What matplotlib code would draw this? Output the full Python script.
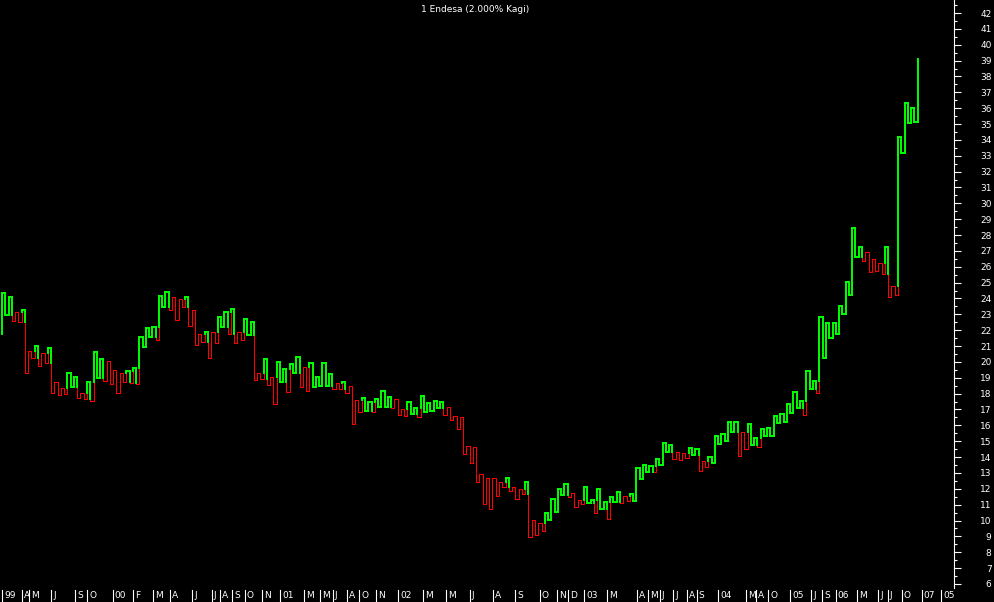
import matplotlib
matplotlib.use("Agg")
import matplotlib.pyplot as plt
import matplotlib.transforms as mtransforms
from matplotlib.ticker import MultipleLocator
import numpy as np

# Kagi turning points (alternating high / low)
kagi_1999_2000 = [21.74, 24.32, 22.96, 24.07, 22.58, 23.13, 22.54, 23.25, 19.32, 20.69,
                  20.23, 21.02, 19.74, 20.54, 19.91, 20.86, 18.02, 18.71, 17.91, 18.33,
                  17.98, 19.32, 18.40, 19.03, 17.70, 18.02, 17.66, 18.71, 17.56, 20.60,
                  18.97, 20.16, 18.82, 20.08, 18.61, 19.49, 18.02, 19.28, 18.76, 19.45,
                  18.65, 19.60, 18.61, 21.59, 20.96, 22.16, 21.55, 22.22, 21.38, 24.18,
                  23.48, 24.43, 23.27, 24.07, 22.64, 23.95, 23.48, 24.11, 22.27, 23.27,
                  21.07, 21.74, 21.24, 21.91, 20.23, 21.91, 21.17, 22.85, 22.22, 23.17,
                  21.76, 23.32, 21.17, 21.87, 21.38, 22.68, 21.70]
kagi_2001_2002 = [22.50, 18.86, 19.28, 18.90, 20.16, 18.54, 19.03, 17.35, 19.97, 18.75,
                  19.53, 18.08, 19.85, 19.28, 20.33, 18.40, 19.66, 18.17, 19.95, 18.40,
                  19.03, 18.48, 19.91, 18.48, 19.22, 18.27, 18.69, 18.27, 18.75, 18.02,
                  18.48, 16.09, 17.60, 16.86, 17.70, 16.93, 17.45, 16.86, 17.64, 17.14,
                  18.19, 17.14, 17.77, 17.07, 17.64, 16.65, 17.01, 16.59, 17.49, 16.72,
                  17.07, 16.55, 17.87, 16.82, 17.43, 16.91, 17.54, 17.07, 17.49, 16.65,
                  17.18, 16.34, 16.61, 15.77, 16.51]
kagi_2002_2003 = [14.19, 14.72, 13.65, 14.61, 12.41, 12.91, 11.04, 12.66, 10.73, 12.66,
                  11.55, 12.41, 12.09, 12.70, 11.88, 12.09, 11.36, 11.97, 11.65, 12.41,
                  8.98, 10.03, 9.09, 9.82, 9.36, 10.45, 10.03, 11.34, 10.52, 11.97,
                  11.61, 12.30, 11.50, 11.76, 10.83, 11.29, 11.04, 12.09, 11.08, 11.29,
                  10.49, 11.97, 10.73, 11.15, 10.07, 11.46, 11.19, 11.82, 11.08, 11.57,
                  11.25, 11.65, 11.25, 13.33]
kagi_2004_2007 = [12.62, 13.50, 13.08, 13.44, 13.04, 13.88, 13.50, 14.87, 14.34, 14.76,
                  13.86, 14.34, 13.82, 14.24, 13.96, 14.59, 14.13, 14.51, 13.12, 13.78,
                  13.35, 13.99, 13.65, 15.35, 14.83, 15.44, 15.01, 16.19, 15.56, 16.23,
                  14.07, 15.60, 14.49, 16.09, 14.76, 15.23, 14.62, 15.75, 15.33, 15.81,
                  15.33, 16.59, 16.13, 16.72, 16.19, 17.35, 16.76, 18.13, 17.10, 17.56,
                  16.65, 19.45, 18.30, 18.80, 18.02, 22.85, 20.23, 22.43, 21.49, 22.48,
                  21.74, 23.55, 23.00, 25.02, 24.22, 28.42, 26.64, 27.27, 26.38, 26.91,
                  25.65, 26.47, 25.73, 26.22, 25.52, 27.27, 24.07, 24.81, 24.22, 34.20,
                  33.20, 36.35, 35.04, 36.03, 35.11, 39.10]

month_labels = ['99', 'A', 'M', 'J', 'S', 'O',
                '00', 'F', 'M', 'A', 'J', 'J', 'A', 'S', 'O', 'N',
                '01', 'M', 'M', 'J', 'A', 'O', 'N',
                '02', 'M', 'M', 'J', 'A', 'S', 'O', 'N', 'D',
                '03', 'M', 'A', 'M', 'J', 'J', 'A', 'S',
                '04', 'M', 'A', 'O',
                '05', 'J', 'S',
                '06', 'M', 'J', 'J', 'O',
                '07', '05']
# reversal index where each month begins
month_pos = [0, 6.1, 8.3, 15.0, 22.3, 26.0,
             33.9, 40.1, 46.2, 51.4, 58.1, 64.2, 66.7, 70.3, 74.3, 79.5,
             85.0, 92.4, 97.2, 101.2, 105.5, 109.2, 114.4,
             121.1, 128.7, 135.8, 143.1, 150.2, 156.9, 164.5, 169.7, 173.1,
             178.0, 185.0, 194.2, 197.6, 201.2, 205.2, 209.5, 212.5,
             219.0, 227.5, 230.6, 234.3,
             241.0, 247.4, 250.8,
             255.0, 261.5, 267.9, 270.9, 275.2,
             281.3, 287.2]

prices = kagi_1999_2000 + kagi_2001_2002 + kagi_2002_2003 + kagi_2004_2007


def kagi_paths(p):
    # returns x/y arrays (NaN separated) for the thick yang and thin yin lines
    gx, gy, rx, ry = [], [], [], []

    def add(yang, x0, y0, x1, y1):
        xs, ys = (gx, gy) if yang else (rx, ry)
        xs.extend([x0, x1, np.nan])
        ys.extend([y0, y1, np.nan])

    yang = True
    for i in range(len(p) - 1):
        a, b = p[i], p[i + 1]
        prev = p[i - 1] if i > 0 else None
        if prev is not None and b > a and not yang and b > prev:
            add(False, i, a, i, prev)
            add(True, i, prev, i, b)
            yang = True
        elif prev is not None and b < a and yang and b < prev:
            add(True, i, a, i, prev)
            add(False, i, prev, i, b)
            yang = False
        else:
            add(yang, i, a, i, b)
        if i < len(p) - 2:
            add(yang, i, b, i + 1, b)
    return gx, gy, rx, ry


W, H = 994, 602
fig = plt.figure(figsize=(W / 100, H / 100), dpi=100, facecolor='black')
ax = fig.add_axes([0, 14 / H, 954 / W, 588 / H], facecolor='black')

gx, gy, rx, ry = kagi_paths(prices)
ax.plot(rx, ry, color='#ff0000', lw=0.75, solid_capstyle='butt')
ax.plot(gx, gy, color='#00ff00', lw=1.4, solid_capstyle='projecting')

step = 3.27
ax.set_xlim(-2 / step, 952 / step)
ax.set_ylim(5.745, 42.82)

for s in ['top', 'left', 'bottom']:
    ax.spines[s].set_visible(False)
ax.spines['right'].set_color('white')
ax.spines['right'].set_linewidth(0.8)
ax.set_xticks([])
ax.yaxis.tick_right()
ax.yaxis.set_minor_locator(MultipleLocator(0.5))
ax.set_yticks(np.arange(6, 43, 1))
ax.tick_params(axis='y', which='major', colors='white', length=5, width=0.8,
               labelsize=6.5, pad=22)
ax.tick_params(axis='y', which='minor', colors='white', length=2.5, width=0.8)
for lab in ax.get_yticklabels():
    lab.set_ha('right')

fig.text(475 / W, 1 - 9 / H, '1 Endesa (2.000% Kagi)', color='white',
         fontsize=6.5, ha='center', va='center')

# month boxes along the bottom
bottom_tr = mtransforms.blended_transform_factory(ax.transData, fig.transFigure)
for lab, pos in zip(month_labels, month_pos):
    ax.plot([pos, pos], [0, 12 / H], color='white', lw=0.8,
            transform=bottom_tr, clip_on=False)
    ax.annotate(lab, xy=(pos, 6 / H), xycoords=('data', 'figure fraction'),
                xytext=(2, 0), textcoords='offset pixels', color='white',
                fontsize=6.5, va='center', ha='left', annotation_clip=False)

fig.savefig('out.png', dpi=100, facecolor='black')
